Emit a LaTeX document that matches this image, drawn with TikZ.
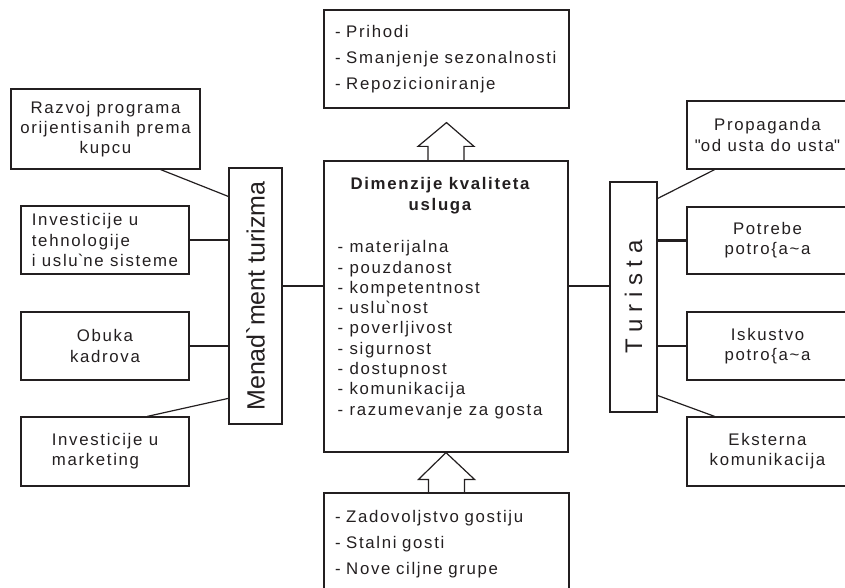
\documentclass[tikz,border=0pt]{standalone}
\usepackage{fontspec}
\setmainfont{Liberation Sans}[LetterSpace=10]
\newfontfamily\uspravno{Liberation Sans}
\usepackage{graphicx}
\usepackage{tikz}
\usetikzlibrary{calc}
\definecolor{crna}{HTML}{231F20}

\begin{document}
\begin{tikzpicture}[x = 1pt, y = -1pt, line width = 1.2pt, crna,
  okvir/.style = {draw, align = center, inner sep = 0pt, font = \fontsize{16.8}{20.3}\selectfont},
  spisak/.style = {align = left, text width = 223pt, inner xsep = 11pt, font = \fontsize{16.8}{25.7}\selectfont},
  tekst/.style = {inner sep = 0pt, font = \fontsize{16.8}{20.3}\selectfont},
  veza/.style = {line width = 1.2pt},
  deblja/.style = {line width = 2.4pt},
  strelica/.style = {line width = 1.2pt, line join = miter}]
\useasboundingbox (0, 0) rectangle (845, 588);

\node[okvir, spisak, minimum height = 98pt] (prihodi) at (446.5, 59) {- Prihodi\\- Smanjenje sezonalnosti\\- Repozicioniranje};
\node[okvir, minimum width = 244pt, minimum height = 291pt] (dimenzije) at (446, 306.5) {};
\node[tekst, align = center, font = \fontsize{16.8}{20.3}\selectfont\bfseries] (naslov) at (440, 195.6) {Dimenzije kvaliteta\\usluga};
\node[tekst, align = left, anchor = west] (lista) at (337, 329.6) {- materijalna\\- pouzdanost\\- kompetentnost\\- uslu\textasciigrave nost\\- poverljivost\\- sigurnost\\- dostupnost\\- komunikacija\\- razumevanje za gosta};
\node[okvir, spisak, minimum height = 102pt] (efekti) at (446.5, 544) {- Zadovoljstvo gostiju\\- Stalni gosti\\- Nove ciljne grupe};

\node[okvir, minimum width = 189pt, minimum height = 80pt] (razvoj) at (105.5, 129) {Razvoj programa\\orijentisanih prema\\kupcu};
\node[okvir, align = left, minimum width = 168pt, minimum height = 68pt] (tehnologije) at (105, 240) {Investicije u\\tehnologije\\i uslu\textasciigrave ne sisteme};
\node[okvir, minimum width = 168pt, minimum height = 68pt] (obuka) at (105, 346) {Obuka\\kadrova};
\node[okvir, align = left, minimum width = 168pt, minimum height = 69pt] (marketing) at (105, 451.5) {Investicije u\\marketing};
\node[okvir, minimum width = 53pt, minimum height = 256pt, font = \uspravno\fontsize{25}{30}\selectfont] (menadzment) at (255.5, 296) {\rotatebox{90}{Menad\textasciigrave ment turizma}};

\node[okvir, minimum width = 47pt, minimum height = 230pt, font = \uspravno\fontsize{24}{30}\selectfont] (turista) at (633.5, 297) {\rotatebox{90}{T u r i s t a}};
\node[okvir, minimum width = 161pt, minimum height = 68pt] (propaganda) at (767.5, 135) {Propaganda\\\textquotedbl od usta do usta\textquotedbl};
\node[okvir, minimum width = 161pt, minimum height = 67pt] (potrebe) at (767.5, 240.5) {Potrebe\\potro\{a\textasciitilde a};
\node[okvir, minimum width = 161pt, minimum height = 68pt] (iskustvo) at (767.5, 346) {Iskustvo\\potro\{a\textasciitilde a};
\node[okvir, minimum width = 161pt, minimum height = 69pt] (eksterna) at (767.5, 451.5) {Eksterna\\komunikacija};

\coordinate (os) at (446, 286);
\draw[deblja] (os -| menadzment.east) -- (os -| dimenzije.west);
\draw[deblja] (os -| dimenzije.east) -- (os -| turista.west);

\draw[veza] ($(razvoj.south west)!0.79!(razvoj.south east)$) -- ($(menadzment.north west)!0.113!(menadzment.south west)$);
\draw[deblja] (tehnologije.east) -- (tehnologije.east -| menadzment.west);
\draw[deblja] (obuka.east) -- (obuka.east -| menadzment.west);
\draw[veza] ($(marketing.north west)!0.75!(marketing.north east)$) -- ($(menadzment.north west)!0.898!(menadzment.south west)$);

\draw[veza] ($(turista.north east)!0.074!(turista.south east)$) -- ($(propaganda.south west)!0.174!(propaganda.south east)$);
\draw[deblja] (potrebe.west) -- (potrebe.west -| turista.east);
\draw[deblja] (iskustvo.west) -- (iskustvo.west -| turista.east);
\draw[veza] ($(turista.north east)!0.926!(turista.south east)$) -- ($(eksterna.north west)!0.174!(eksterna.north east)$);

\draw[strelica] ($(dimenzije.north)+(-18, 0)$) -- ++(0, -14) -- ++(-10, 0) -- ($(prihodi.south)+(0, 14)$) -- ($(dimenzije.north)+(28, -14)$) -- ++(-10, 0) -- ++(0, 14);
\draw[strelica] ($(efekti.north)+(-18, 0)$) -- ++(0, -13) -- ++(-10, 0) -- (dimenzije.south) -- ($(efekti.north)+(28, -13)$) -- ++(-10, 0) -- ++(0, 13);

\end{tikzpicture}
\end{document}
